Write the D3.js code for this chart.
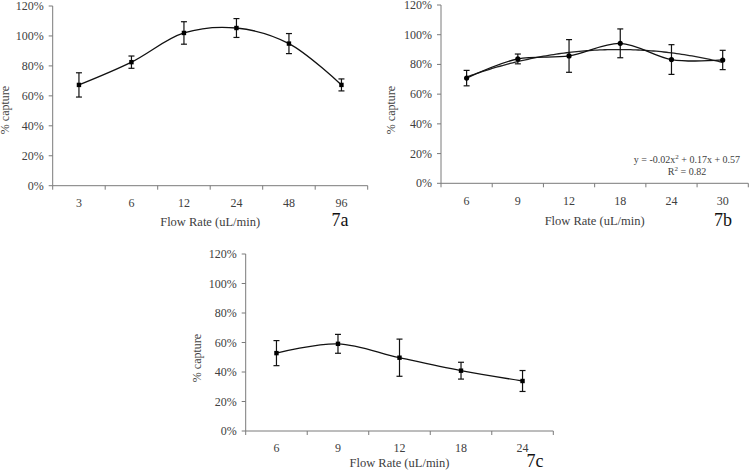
<!DOCTYPE html>
<html>
<head>
    <title>Capture vs Flow Rate</title>
    <style>
        body { margin: 0; background: #fff; }
        text { font-family: "Liberation Serif", "Times New Roman", serif; fill: #404040; }
    </style>
    <script src="https://d3js.org/d3.v7.min.js"></script>
</head>
<body>
<svg id="fig"></svg>
<script>
    // Panel 7a
    const ratesA = ['3', '6', '12', '24', '48', '96'];
    const captureA = [67.3, 82.5, 102, 105.3, 94.9, 67.3];
    const errA = [8.1, 4.1, 7.5, 6.3, 6.7, 4.0];
    // Panel 7b
    const ratesB = ['6', '9', '12', '18', '24', '30'];
    const captureB = [70.8, 83.7, 85.7, 94.2, 83.3, 83.0];
    const errB = [5.2, 3.3, 11.0, 9.7, 10.0, 6.5];
    // Panel 7c
    const ratesC = ['6', '9', '12', '18', '24'];
    const captureC = [52.8, 59.1, 49.7, 40.9, 33.9];
    const errC = [8.5, 6.4, 12.6, 5.7, 7.1];

    const yTicks = [0, 20, 40, 60, 80, 100, 120];

    const W = 749, H = 471;
    const svg = d3.select('#fig').attr('width', W).attr('height', H);

    // quadratic least squares on category index 1..n
    function quadFit(ys) {
        let s = [0, 0, 0, 0, 0], t = [0, 0, 0];
        ys.forEach((y, i) => {
            const x = i + 1;
            for (let k = 0; k < 5; k++) s[k] += Math.pow(x, k);
            for (let k = 0; k < 3; k++) t[k] += y * Math.pow(x, k);
        });
        const M = [[s[0], s[1], s[2], t[0]], [s[1], s[2], s[3], t[1]], [s[2], s[3], s[4], t[2]]];
        for (let i = 0; i < 3; i++) {
            for (let j = i + 1; j < 3; j++) {
                const f = M[j][i] / M[i][i];
                for (let k = i; k < 4; k++) M[j][k] -= f * M[i][k];
            }
        }
        const c = [0, 0, 0];
        for (let i = 2; i >= 0; i--) {
            let v = M[i][3];
            for (let k = i + 1; k < 3; k++) v -= M[i][k] * c[k];
            c[i] = v / M[i][i];
        }
        return x => c[0] + c[1] * x + c[2] * x * x;
    }

    function panel(o) {
        const g = svg.append('g');
        const x = d3.scaleBand().domain(o.rates).range([o.x0, o.x1]);
        const y = d3.scaleLinear().domain([0, 120]).range([o.y0, o.y1]);
        const cx = d => x(d) + x.bandwidth() / 2;

        // y axis
        g.append('line').attr('x1', o.x0).attr('x2', o.x0).attr('y1', o.y0).attr('y2', o.y1)
            .attr('stroke', '#7a7a7a');
        yTicks.forEach(t => {
            g.append('line').attr('x1', o.x0 - 4).attr('x2', o.x0).attr('y1', y(t)).attr('y2', y(t))
                .attr('stroke', '#7a7a7a');
            g.append('text').attr('x', o.x0 - 9).attr('y', y(t) + 4).attr('text-anchor', 'end')
                .attr('font-size', 12).text(t + '%');
        });
        // x axis
        g.append('line').attr('x1', o.x0).attr('x2', o.x1).attr('y1', o.y0).attr('y2', o.y0)
            .attr('stroke', '#7a7a7a');
        d3.range(o.rates.length + 1).forEach(i => {
            const px = o.x0 + i * x.step();
            g.append('line').attr('x1', px).attr('x2', px).attr('y1', o.y0).attr('y2', o.y0 + 4)
                .attr('stroke', '#7a7a7a');
        });
        o.rates.forEach(r => {
            g.append('text').attr('x', cx(r)).attr('y', o.y0 + o.tickDy).attr('text-anchor', 'middle')
                .attr('font-size', 12).text(r);
        });

        // titles
        g.append('text').attr('transform', `translate(${o.ytx},${o.yty}) rotate(-90)`)
            .attr('text-anchor', 'middle').attr('font-size', 12).text('% capture');
        g.append('text').attr('x', (o.x0 + o.x1) / 2).attr('y', o.y0 + o.titleDy).attr('text-anchor', 'middle')
            .attr('font-size', 12.5).text('Flow Rate (uL/min)');
        g.append('text').attr('x', o.labX).attr('y', o.y0 + o.labDy).attr('text-anchor', 'middle')
            .attr('font-size', 18).style('fill', '#111').text(o.label);

        const pts = o.rates.map((r, i) => ({ r, v: o.vals[i], e: o.errs[i] }));

        // trendline
        if (o.trend) {
            const f = quadFit(o.vals);
            const lx = d3.scaleLinear().domain([1, o.rates.length]).range([cx(o.rates[0]), cx(o.rates[o.rates.length - 1])]);
            const samples = d3.range(1, o.rates.length + 0.001, 0.05);
            g.append('path').datum(samples)
                .attr('d', d3.line().x(s => lx(s)).y(s => y(f(s))))
                .attr('fill', 'none').attr('stroke', '#222').attr('stroke-width', 1.3);
        }

        // data line
        g.append('path').datum(pts)
            .attr('d', d3.line().x(d => cx(d.r)).y(d => y(d.v)).curve(d3.curveCatmullRom.alpha(0.5)))
            .attr('fill', 'none').attr('stroke', '#111').attr('stroke-width', 1.3);

        // error bars
        pts.forEach(d => {
            const px = cx(d.r);
            g.append('line').attr('x1', px).attr('x2', px).attr('y1', y(d.v - d.e)).attr('y2', y(d.v + d.e))
                .attr('stroke', '#111').attr('stroke-width', 1.2);
            [d.v - d.e, d.v + d.e].forEach(v => {
                g.append('line').attr('x1', px - 3).attr('x2', px + 3).attr('y1', y(v)).attr('y2', y(v))
                    .attr('stroke', '#111').attr('stroke-width', 1.2);
            });
            if (o.marker === 'circle') {
                g.append('circle').attr('cx', px).attr('cy', y(d.v)).attr('r', 2.6).attr('fill', '#000');
            } else {
                g.append('rect').attr('x', px - 2.2).attr('y', y(d.v) - 2.2).attr('width', 4.4).attr('height', 4.4)
                    .attr('fill', '#000');
            }
        });

        if (o.eq) {
            g.append('text').attr('x', o.eq.x).attr('y', o.eq.y).attr('text-anchor', 'middle')
                .attr('font-size', 10).html('y = -0.02x<tspan dy="-4" font-size="7">2</tspan><tspan dy="4"> + 0.17x + 0.57</tspan>');
            g.append('text').attr('x', o.eq.x).attr('y', o.eq.y + 12).attr('text-anchor', 'middle')
                .attr('font-size', 10).html('R<tspan dy="-4" font-size="7">2</tspan><tspan dy="4"> = 0.82</tspan>');
        }
    }

    panel({ rates: ratesA, vals: captureA, errs: errA, x0: 52.7, x1: 367.7, y0: 185.7, y1: 6,
        ytx: 9, yty: 110, labX: 340, label: '7a', marker: 'square', tickDy: 21, titleDy: 40, labDy: 40 });
    panel({ rates: ratesB, vals: captureB, errs: errB, x0: 441, x1: 748.3, y0: 183.3, y1: 5,
        ytx: 395, yty: 110, labX: 723, label: '7b', marker: 'circle', trend: true,
        eq: { x: 687, y: 163 }, tickDy: 22, titleDy: 42, labDy: 43 });
    panel({ rates: ratesC, vals: captureC, errs: errC, x0: 245.7, x1: 553.3, y0: 431, y1: 254,
        ytx: 201, yty: 358, labX: 535, label: '7c', marker: 'square', tickDy: 21, titleDy: 36, labDy: 36 });
</script>
</body>
</html>
